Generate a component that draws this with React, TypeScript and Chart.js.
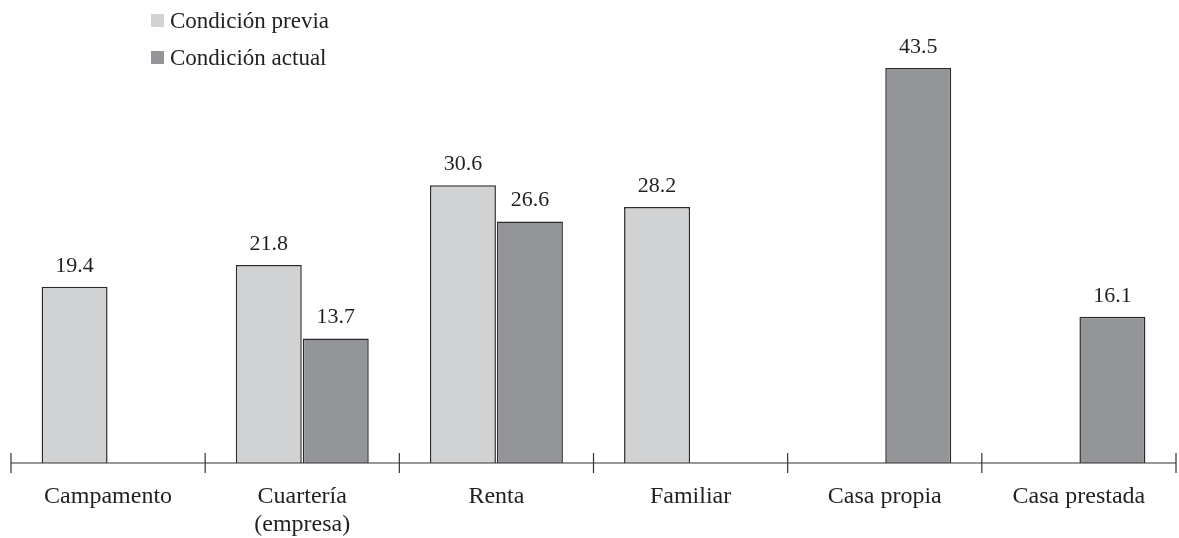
import React, { useEffect, useRef } from "react";
import { Chart, registerables } from "chart.js";

Chart.register(...registerables);

const categories: (string | string[])[] = [
  "Campamento",
  ["Cuartería", "(empresa)"],
  "Renta",
  "Familiar",
  "Casa propia",
  "Casa prestada",
];
const previa: (number | null)[] = [19.4, 21.8, 30.6, 28.2, null, null];
const actual: (number | null)[] = [null, 13.7, 26.6, null, 43.5, 16.1];
const seriesNames = ["Condición previa", "Condición actual"];
const colors = ["#d1d2d4", "#939598"];

const FONT = "'Liberation Serif', 'DejaVu Serif', serif";
const FS = 22;
const AXIS_FS = 24;

const axisTicks = {
  id: "axisTicks",
  afterDraw(chart: any) {
    const { ctx, chartArea } = chart;
    const xs = chart.scales.x;
    const n = xs.ticks.length;
    const y = chartArea.bottom;
    ctx.save();
    ctx.strokeStyle = "#333";
    ctx.lineWidth = 1.2;
    ctx.beginPath();
    ctx.moveTo(xs.left, y);
    ctx.lineTo(xs.right, y);
    for (let i = 0; i <= n; i++) {
      const x = xs.left + (i * (xs.right - xs.left)) / n;
      ctx.moveTo(x, y - 10);
      ctx.lineTo(x, y + 10);
    }
    ctx.stroke();
    ctx.restore();
  },
};

const valueLabels = {
  id: "valueLabels",
  afterDatasetsDraw(chart: any) {
    const { ctx } = chart;
    ctx.save();
    ctx.font = `${FS}px ${FONT}`;
    ctx.fillStyle = "#231f20";
    ctx.textAlign = "center";
    ctx.textBaseline = "bottom";
    chart.data.datasets.forEach((ds: any, di: number) => {
      const meta = chart.getDatasetMeta(di);
      meta.data.forEach((bar: any, i: number) => {
        const v = ds.data[i];
        if (v === null || v === undefined) return;
        ctx.fillText(v.toFixed(1), bar.x, bar.y - 10);
      });
    });
    ctx.restore();
  },
};

export default function App() {
  const ref = useRef<HTMLCanvasElement | null>(null);
  useEffect(() => {
    if (!ref.current) return;
    const chart = new Chart(ref.current, {
      type: "bar",
      data: {
        labels: categories,
        datasets: [
          {
            label: seriesNames[0],
            data: previa,
            backgroundColor: colors[0],
            borderColor: "#2b2b2b",
            borderWidth: 1.5,
            categoryPercentage: 0.69,
            barPercentage: 0.985,
          },
          {
            label: seriesNames[1],
            data: actual,
            backgroundColor: colors[1],
            borderColor: "#2b2b2b",
            borderWidth: 1.5,
            categoryPercentage: 0.69,
            barPercentage: 0.985,
          },
        ],
      },
      options: {
        animation: false,
        responsive: false,
        layout: { padding: { left: 11, right: 3, top: 9, bottom: 0 } },
        plugins: { legend: { display: false }, tooltip: { enabled: false } },
        scales: {
          x: {
            grid: { display: false, drawTicks: false },
            border: { display: false },
            ticks: {
              color: "#231f20",
              font: { family: FONT, size: AXIS_FS },
              padding: 19,
              maxRotation: 0,
              autoSkip: false,
            },
            afterFit: (scale: any) => {
              scale.height = 75;
            },
          },
          y: { display: false, min: 0, max: 50 },
        },
      },
      plugins: [axisTicks, valueLabels],
    });
    return () => chart.destroy();
  }, []);

  return (
    <div style={{ position: "fixed", left: 0, top: 0, width: 1179, height: 538, background: "#fff" }}>
      <canvas ref={ref} width={1179} height={538} style={{ display: "block" }} />
      <div style={{ position: "absolute", left: 151, top: 2, fontFamily: FONT, fontSize: 23, color: "#231f20" }}>
        {seriesNames.map((s, i) => (
          <div key={s} style={{ display: "flex", alignItems: "center", height: 37 }}>
            <span style={{ display: "inline-block", width: 13, height: 13, background: colors[i], marginRight: 6 }} />
            <span>{s}</span>
          </div>
        ))}
      </div>
    </div>
  );
}
